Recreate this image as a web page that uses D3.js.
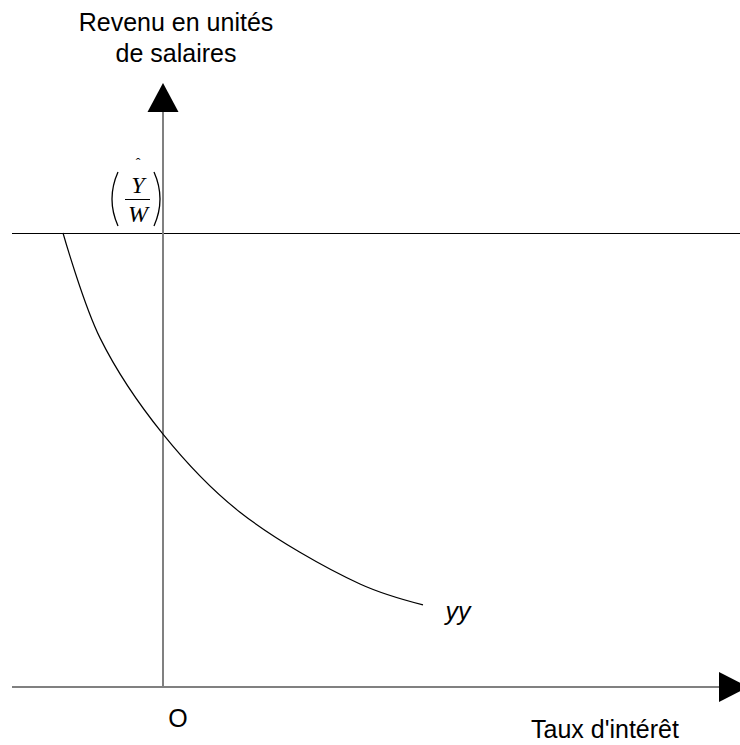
<!DOCTYPE html>
<html>
<head>
<meta charset="utf-8">
<script src="https://cdn.jsdelivr.net/npm/d3@7"></script>
<style>
  html, body { margin: 0; padding: 0; background: #fff; }
  svg { display: block; }
</style>
</head>
<body>
<div id="chart"></div>
<script>
// Curve yy (interest rate, income in wage units)
const rates = [-1.0, -0.63, 0.0, 0.77, 1.97, 2.6];
const incomes = [10.0, 7.69, 5.57, 3.85, 2.27, 1.81];
const fullEmployment = 10.0; // level of (Y/W)^
const yLabelLines = ["Revenu en unités", "de salaires"];
const xLabel = "Taux d'intérêt";
const curveLabel = "yy";
const originLabel = "O";

const width = 740;
const height = 745;

const x = d3.scaleLinear().domain([-1, 0]).range([63, 163]);
const y = d3.scaleLinear().domain([0, 10]).range([687, 233]);

const svg = d3.select("#chart").append("svg")
  .attr("width", width)
  .attr("height", height)
  .attr("font-family", "Liberation Sans, Arial, sans-serif");

const data = rates.map((r, i) => ({ r, v: incomes[i] }));

// Horizontal line at full-employment income
svg.append("line")
  .attr("x1", 12).attr("x2", width)
  .attr("y1", y(fullEmployment) + 0.5).attr("y2", y(fullEmployment) + 0.5)
  .attr("stroke", "#000")
  .attr("stroke-width", 1);

// Axes
svg.append("line")
  .attr("x1", x(0)).attr("x2", x(0))
  .attr("y1", 110).attr("y2", y(0))
  .attr("stroke", "#808080")
  .attr("stroke-width", 2);

svg.append("line")
  .attr("x1", 12).attr("x2", 720)
  .attr("y1", y(0)).attr("y2", y(0))
  .attr("stroke", "#808080")
  .attr("stroke-width", 2);

// Arrow heads
const ox = x(0), oy = y(0);
svg.append("path")
  .attr("d", `M${ox},83 L${ox + 15.5},112 L${ox - 15.5},112 Z`)
  .attr("fill", "#000");
svg.append("path")
  .attr("d", `M719,${oy - 15} L748,${oy} L719,${oy + 15} Z`)
  .attr("fill", "#000");

// Curve
const line = d3.line()
  .x(d => x(d.r))
  .y(d => y(d.v))
  .curve(d3.curveCatmullRom.alpha(0.5));

svg.append("path")
  .datum(data)
  .attr("fill", "none")
  .attr("stroke", "#000")
  .attr("stroke-width", 1.2)
  .attr("d", line);

// Labels
svg.append("text")
  .attr("text-anchor", "middle")
  .attr("font-size", "25px")
  .attr("fill", "#000")
  .selectAll("tspan")
  .data(yLabelLines)
  .join("tspan")
  .attr("x", 176)
  .attr("y", (d, i) => 31 + i * 31)
  .text(d => d);

svg.append("text")
  .attr("x", 531)
  .attr("y", 738)
  .attr("text-anchor", "start")
  .attr("font-size", "25px")
  .text(xLabel);

svg.append("text")
  .attr("x", 178)
  .attr("y", 727)
  .attr("text-anchor", "middle")
  .attr("font-size", "25px")
  .text(originLabel);

svg.append("text")
  .attr("x", 458)
  .attr("y", 620)
  .attr("text-anchor", "middle")
  .attr("font-size", "25px")
  .attr("font-style", "italic")
  .text(curveLabel);

// (Y/W)^ label
const m = svg.append("g")
  .attr("font-family", "Liberation Serif, Times New Roman, serif")
  .attr("fill", "#000");
m.append("text")
  .attr("x", 138).attr("y", 193)
  .attr("text-anchor", "middle")
  .attr("font-size", "24px")
  .attr("font-style", "italic")
  .text("Y");
m.append("text")
  .attr("x", 138).attr("y", 168)
  .attr("text-anchor", "middle")
  .attr("font-size", "14px")
  .text("ˆ");
m.append("line")
  .attr("x1", 125).attr("x2", 150)
  .attr("y1", 199.5).attr("y2", 199.5)
  .attr("stroke", "#000")
  .attr("stroke-width", 1);
m.append("text")
  .attr("x", 138).attr("y", 222)
  .attr("text-anchor", "middle")
  .attr("font-size", "24px")
  .attr("font-style", "italic")
  .text("W");
m.append("path")
  .attr("d", "M118,172 Q106,199 118,226")
  .attr("fill", "none")
  .attr("stroke", "#000")
  .attr("stroke-width", 1.3);
m.append("path")
  .attr("d", "M154,172 Q166,199 154,226")
  .attr("fill", "none")
  .attr("stroke", "#000")
  .attr("stroke-width", 1.3);
</script>
</body>
</html>
